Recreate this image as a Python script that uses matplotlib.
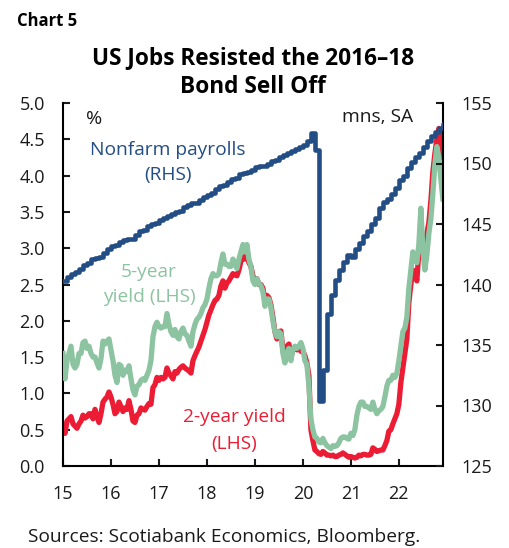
import matplotlib
matplotlib.use("Agg")
import matplotlib.pyplot as plt
import numpy as np

plt.rcParams['font.family'] = ['Open Sans', 'DejaVu Sans']

# ---- data ----
# Nonfarm payrolls, millions, monthly Dec 2014 - Dec 2022 (RHS)
payrolls = [
    140.3,
    140.6, 140.9, 141.0, 141.3, 141.6, 141.8, 142.1, 142.2, 142.3, 142.6, 142.9, 143.2,
    143.3, 143.5, 143.7, 143.8, 143.8, 144.1, 144.4, 144.5, 144.8, 145.0, 145.1, 145.3,
    145.5, 145.7, 145.8, 146.0, 146.1, 146.4, 146.6, 146.7, 146.7, 147.0, 147.2, 147.4,
    147.6, 147.9, 148.1, 148.2, 148.5, 148.7, 148.8, 149.1, 149.2, 149.3, 149.5, 149.7,
    149.8, 149.8, 150.0, 150.2, 150.3, 150.5, 150.7, 150.9, 151.0, 151.2, 151.4, 151.5,
    151.9, 152.5, 151.1, 130.4, 132.9, 137.6, 139.1, 140.4, 141.2, 141.9, 142.4, 142.3,
    142.9, 143.4, 144.0, 144.4, 145.0, 145.5, 146.3, 146.8, 147.1, 147.5, 148.0, 148.6,
    149.0, 149.6, 150.1, 150.5, 150.9, 151.4, 151.9, 152.3, 152.6, 152.9, 153.3, 153.6,
]

# 2-year Treasury yield, %, twice a month Jan 2015 - early Dec 2022 (LHS)
yield_2y = [
    0.55, 0.45, 0.62, 0.65, 0.68, 0.58, 0.55, 0.52, 0.58, 0.62, 0.70, 0.66,
    0.68, 0.72, 0.72, 0.65, 0.78, 0.68, 0.60, 0.72, 0.88, 0.92, 0.95, 1.02,
    0.95, 0.85, 0.72, 0.75, 0.88, 0.82, 0.75, 0.80, 0.78, 0.90, 0.78, 0.62,
    0.60, 0.70, 0.72, 0.80, 0.78, 0.77, 0.82, 0.86, 0.85, 1.08, 1.12, 1.22,
    1.18, 1.22, 1.20, 1.22, 1.35, 1.28, 1.24, 1.20, 1.30, 1.28, 1.33, 1.36,
    1.38, 1.35, 1.33, 1.31, 1.28, 1.45, 1.52, 1.58, 1.64, 1.72, 1.80, 1.88,
    1.98, 2.08, 2.15, 2.22, 2.28, 2.30, 2.35, 2.48, 2.55, 2.45, 2.52, 2.55,
    2.60, 2.65, 2.63, 2.62, 2.70, 2.82, 2.88, 2.85, 2.92, 2.80, 2.75, 2.62,
    2.52, 2.58, 2.50, 2.50, 2.45, 2.28, 2.35, 2.32, 2.22, 2.05, 1.85, 1.75,
    1.85, 1.86, 1.60, 1.52, 1.65, 1.68, 1.50, 1.60, 1.62, 1.60, 1.62, 1.58,
    1.58, 1.52, 1.42, 1.25, 0.50, 0.35, 0.22, 0.20, 0.17, 0.16, 0.20, 0.18,
    0.15, 0.15, 0.14, 0.15, 0.13, 0.13, 0.15, 0.16, 0.18, 0.16, 0.14, 0.12,
    0.13, 0.12, 0.11, 0.12, 0.15, 0.14, 0.16, 0.16, 0.15, 0.15, 0.16, 0.25,
    0.23, 0.20, 0.21, 0.22, 0.22, 0.28, 0.35, 0.48, 0.50, 0.58, 0.65, 0.72,
    0.85, 1.15, 1.35, 1.55, 1.75, 2.25, 2.50, 2.70, 2.65, 2.55, 2.95, 3.10,
    3.00, 2.90, 3.20, 3.35, 3.65, 4.05, 4.30, 4.50, 4.65, 4.50, 4.25,
]

# 5-year Treasury yield, %, twice a month Jan 2015 - early Dec 2022 (LHS)
yield_5y = [
    1.55, 1.20, 1.45, 1.55, 1.65, 1.40, 1.35, 1.40, 1.55, 1.55, 1.70, 1.72,
    1.62, 1.65, 1.55, 1.50, 1.50, 1.42, 1.35, 1.48, 1.72, 1.68, 1.72, 1.75,
    1.60, 1.45, 1.25, 1.15, 1.40, 1.38, 1.25, 1.32, 1.30, 1.38, 1.20, 1.05,
    0.98, 1.10, 1.12, 1.18, 1.20, 1.18, 1.25, 1.32, 1.45, 1.78, 1.92, 1.98,
    1.92, 1.90, 1.92, 1.92, 2.10, 1.95, 1.85, 1.80, 1.88, 1.78, 1.75, 1.85,
    1.90, 1.82, 1.80, 1.72, 1.65, 1.85, 1.95, 2.02, 2.05, 2.10, 2.18, 2.22,
    2.30, 2.45, 2.58, 2.65, 2.62, 2.62, 2.65, 2.80, 2.92, 2.78, 2.78, 2.75,
    2.75, 2.85, 2.78, 2.72, 2.85, 2.95, 3.05, 2.95, 3.05, 2.85, 2.75, 2.55,
    2.50, 2.58, 2.52, 2.48, 2.40, 2.20, 2.30, 2.30, 2.18, 2.00, 1.85, 1.78,
    1.85, 1.82, 1.55, 1.42, 1.55, 1.62, 1.45, 1.60, 1.65, 1.62, 1.65, 1.70,
    1.62, 1.45, 1.40, 1.10, 0.65, 0.50, 0.40, 0.38, 0.33, 0.32, 0.38, 0.32,
    0.28, 0.26, 0.24, 0.28, 0.27, 0.28, 0.32, 0.38, 0.40, 0.40, 0.38, 0.37,
    0.45, 0.42, 0.50, 0.70, 0.82, 0.88, 0.88, 0.82, 0.82, 0.80, 0.78, 0.88,
    0.78, 0.72, 0.76, 0.78, 0.82, 0.95, 1.10, 1.18, 1.18, 1.25, 1.22, 1.28,
    1.45, 1.65, 1.85, 1.90, 2.05, 2.45, 2.70, 2.95, 2.85, 2.80, 3.05, 3.55,
    3.00, 2.70, 2.90, 3.20, 3.40, 3.75, 4.15, 4.40, 4.25, 3.95, 3.68,
]

xtick_labels = ['15', '16', '17', '18', '19', '20', '21', '22']
left_ticks = [0.0, 0.5, 1.0, 1.5, 2.0, 2.5, 3.0, 3.5, 4.0, 4.5, 5.0]
right_ticks = [125, 130, 135, 140, 145, 150, 155]

BLUE = '#234d85'
GREEN = '#8cc3a0'
RED = '#ec1c34'

W, H = 510, 548
fig = plt.figure(figsize=(W / 100, H / 100), dpi=100)
L, R, B, T = 63, 443, 466, 103
ax = fig.add_axes([L / W, 1 - B / H, (R - L) / W, (B - T) / H])
ax2 = ax.twinx()

x_y = 15 + np.arange(len(yield_2y)) / 24.0
x_p = 15 + np.arange(len(payrolls)) / 12.0

ax.plot(x_y, yield_2y, color=RED, lw=3.8, solid_joinstyle='round', zorder=2)
ax.plot(x_y, yield_5y, color=GREEN, lw=3.8, solid_joinstyle='round', zorder=3)
ax2.plot(x_p, payrolls, color=BLUE, lw=3.3, drawstyle='steps-post', zorder=4)

ax.set_xlim(15, 22.92)
ax.set_ylim(0, 5)
ax2.set_ylim(125, 155)

ax.set_xticks(np.arange(15, 23))
ax.set_xticklabels(xtick_labels)
ax.set_yticks(left_ticks)
ax.set_yticklabels([f'{v:.1f}' for v in left_ticks])
ax2.set_yticks(right_ticks)
ax2.set_yticklabels([str(v) for v in right_ticks])

for a in (ax, ax2):
    a.spines['top'].set_visible(False)
    for s in ('left', 'right', 'bottom'):
        a.spines[s].set_linewidth(1.5)
        a.spines[s].set_color('black')
    a.tick_params(direction='in', length=5, width=1.5, labelsize=13, colors='#1a1a1a')
ax.spines['right'].set_visible(False)
ax2.spines['left'].set_visible(False)
ax2.spines['bottom'].set_visible(False)
ax.tick_params(axis='y', pad=13)
ax.tick_params(axis='x', pad=14)
ax2.tick_params(axis='y', pad=13)

def fx(px):
    return px / W

def fy(py):
    return 1 - py / H

fig.text(fx(17), fy(21), 'Chart 5', fontsize=12, fontweight='bold', va='center', ha='left')
fig.text(fx(253), fy(58), 'US Jobs Resisted the 2016–18', fontsize=16.3, fontweight='bold',
         ha='center', va='center')
fig.text(fx(253), fy(87), 'Bond Sell Off', fontsize=16.3, fontweight='bold',
         ha='center', va='center')

LS = 13.8
fig.text(fx(86), fy(119), '%', fontsize=14, ha='left', va='center', color='#1a1a1a')
fig.text(fx(413), fy(117), 'mns, SA', fontsize=LS, ha='right', va='center', color='#1a1a1a')

fig.text(fx(168), fy(150), 'Nonfarm payrolls', fontsize=LS, ha='center', va='center', color=BLUE)
fig.text(fx(168), fy(175), '(RHS)', fontsize=LS, ha='center', va='center', color=BLUE)

fig.text(fx(149), fy(272), '5-year', fontsize=LS, ha='center', va='center', color=GREEN)
fig.text(fx(149), fy(297), 'yield (LHS)', fontsize=LS, ha='center', va='center', color=GREEN)

fig.text(fx(234), fy(417), '2-year yield', fontsize=LS, ha='center', va='center', color=RED)
fig.text(fx(234), fy(444), '(LHS)', fontsize=LS, ha='center', va='center', color=RED)

fig.text(fx(28), fy(537), 'Sources: Scotiabank Economics, Bloomberg.', fontsize=13.8,
         ha='left', va='center', color='#1a1a1a')

fig.savefig('out.png', dpi=100)
